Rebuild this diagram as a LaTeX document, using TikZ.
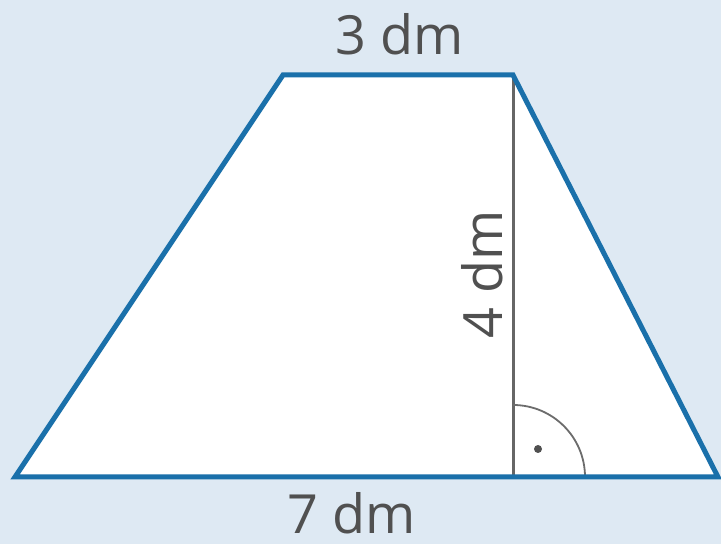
\documentclass[tikz,border=0pt]{standalone}
\usepackage{fontspec}
\setmainfont{Open Sans}
\usepackage{xcolor}
\usetikzlibrary{positioning}

\definecolor{bgblue}{HTML}{DEE9F3}
\definecolor{edgeblue}{HTML}{1A70AA}
\definecolor{labelgray}{HTML}{505050}

\begin{document}
\begin{tikzpicture}[
    x=1pt, y=1pt,
    edge/.style={draw=edgeblue, line width=5pt, line join=miter},
    height/.style={draw=gray!80!black, line width=3pt},
    angmark/.style={draw=gray!85!black, line width=1.8pt},
    lbl/.style={font=\fontsize{54}{60}\selectfont, text=labelgray, inner sep=0pt, anchor=base},
]

% Background
\fill[bgblue] (0,0) rectangle (721,544);
\useasboundingbox (0,0) rectangle (721,544);

% Corners
\coordinate (bl) at (15,67);
\coordinate (br) at (718,67);
\coordinate (tr) at (513,469);
\coordinate (tl) at (283,469);
\coordinate (foot) at (513,67);

% Trapezoid
\fill[white] (bl) -- (br) -- (tr) -- (tl) -- cycle;
\draw[height] (tr) -- (foot);
\draw[angmark] ([xshift=72pt]foot) arc[start angle=0, end angle=90, radius=72pt];
\fill[labelgray] ([xshift=25pt, yshift=28pt]foot) circle (4pt);
\draw[edge] (bl) -- (br) -- (tr) -- (tl) -- cycle;

% Labels
\node[lbl] (top) at (400,489) {3 dm};
\node[lbl] (bottom) at (352,10) {7 dm};
\node[lbl, rotate=90] (hgt) at (502,270) {4 dm};

\end{tikzpicture}
\end{document}
